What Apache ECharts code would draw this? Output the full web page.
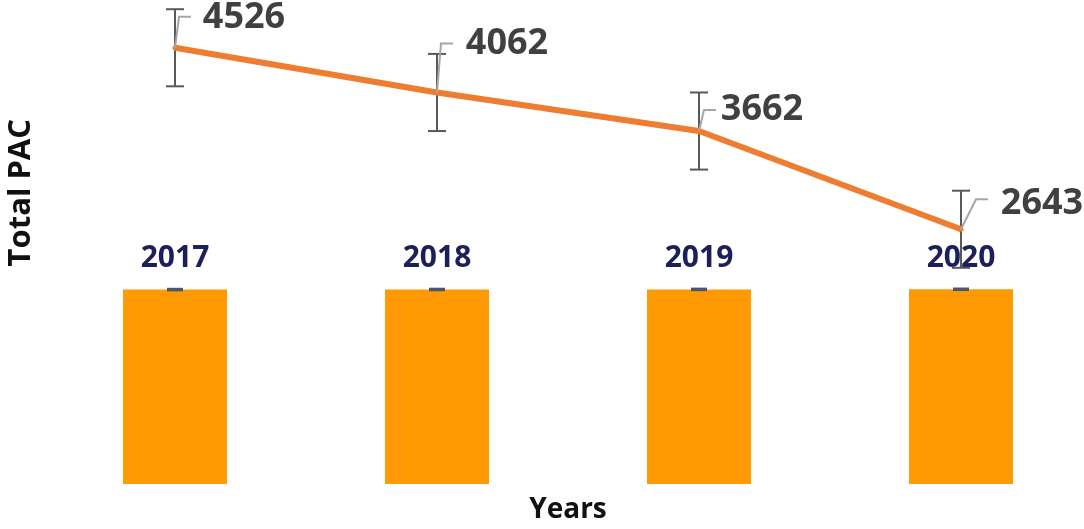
<!DOCTYPE html>
<html><head><meta charset="utf-8">
<script src="https://cdn.jsdelivr.net/npm/echarts@6/dist/echarts.min.js"></script>
<style>html,body{margin:0;padding:0;background:#fff}#c{width:1084px;height:529px}</style>
</head><body><div id="c"></div>
<script>
const categories = ['2017', '2018', '2019', '2020'];
const barValues = [2017, 2018, 2019, 2020];
const barErrors = [6, 6, 6, 6];
const pacValues = [4526, 4062, 3662, 2643];
const pacErrors = [400, 400, 400, 400];

const chart = echarts.init(document.getElementById('c'));
// label placement (pixel offsets from the point)
const labelOffsets = [[69, -30], [70, -49], [63, -21], [81, -26]];
const leaderBends = [[4, -31], [4, -49], [5, -21], [15, -30]];

function errItem(color, capHalf, width) {
  return function (params, api) {
    const x = api.value(0);
    const lo = api.coord([x, api.value(1)]);
    const hi = api.coord([x, api.value(2)]);
    const style = { stroke: color, lineWidth: width };
    return {
      type: 'group',
      children: [
        { type: 'line', shape: { x1: lo[0], y1: lo[1], x2: hi[0], y2: hi[1] }, style },
        { type: 'line', shape: { x1: lo[0] - capHalf, y1: lo[1], x2: lo[0] + capHalf, y2: lo[1] }, style },
        { type: 'line', shape: { x1: hi[0] - capHalf, y1: hi[1], x2: hi[0] + capHalf, y2: hi[1] }, style }
      ]
    };
  };
}

function leaderItem(params, api) {
  const p = api.coord([api.value(0), api.value(1)]);
  const b = leaderBends[params.dataIndex];
  const bx = p[0] + b[0], by = p[1] + b[1];
  return {
    type: 'polyline',
    shape: { points: [[p[0], p[1]], [bx, by], [bx + 12, by]] },
    style: { stroke: '#A6A6A6', lineWidth: 2, fill: null }
  };
}

const option = {
  animation: false,
  grid: { left: 44, right: -8, top: 4, bottom: 45, outerBoundsMode: 'none', containLabel: false },
  xAxis: {
    type: 'category', data: categories,
    axisLine: { show: false }, axisTick: { show: false }, axisLabel: { show: false },
    name: 'Years', nameLocation: 'middle', nameGap: 12,
    nameTextStyle: { fontFamily: 'Open Sans', fontWeight: 'bold', fontSize: 28, color: '#111' }
  },
  yAxis: {
    type: 'value', min: 0, max: 4980, show: false, splitLine: { show: false }
  },
  graphic: [{
    type: 'text', left: 6, top: 119, rotation: Math.PI / 2,
    style: { text: 'Total PAC', fontFamily: 'Open Sans', fontWeight: 'bold', fontSize: 31, fill: '#111' }
  }],
  series: [
    {
      type: 'bar', data: barValues, barWidth: 104,
      itemStyle: { color: '#FF9A05' },
      label: {
        show: true, position: 'top', distance: 16,
        fontFamily: 'Open Sans', fontWeight: 'bold', fontSize: 30, color: '#1B1F5C'
      },
      z: 2
    },
    {
      type: 'custom', renderItem: errItem('#4A5868', 8, 3),
      data: barValues.map((v, i) => [i, v - barErrors[i] / 2, v + barErrors[i] / 2]),
      z: 3, silent: true
    },
    {
      type: 'custom', renderItem: errItem('#595959', 9, 2),
      data: pacValues.map((v, i) => [i, v - pacErrors[i], v + pacErrors[i]]),
      z: 4, silent: true
    },
    {
      type: 'line', data: pacValues, showSymbol: true, symbol: 'circle', symbolSize: 5,
      lineStyle: { color: '#ED7D31', width: 6 },
      itemStyle: { color: '#ED7D31' },
      label: {
        show: true, position: 'inside',
        fontFamily: 'Open Sans', fontWeight: 'bold', fontSize: 36, color: '#404040'
      },
      labelLayout: function (p) {
        const o = labelOffsets[p.dataIndex];
        return { dx: o[0], dy: o[1] };
      },
      z: 5
    },
    {
      type: 'custom', renderItem: leaderItem,
      data: pacValues.map((v, i) => [i, v]),
      z: 6, silent: true
    }
  ]
};
chart.setOption(option);
</script></body></html>
